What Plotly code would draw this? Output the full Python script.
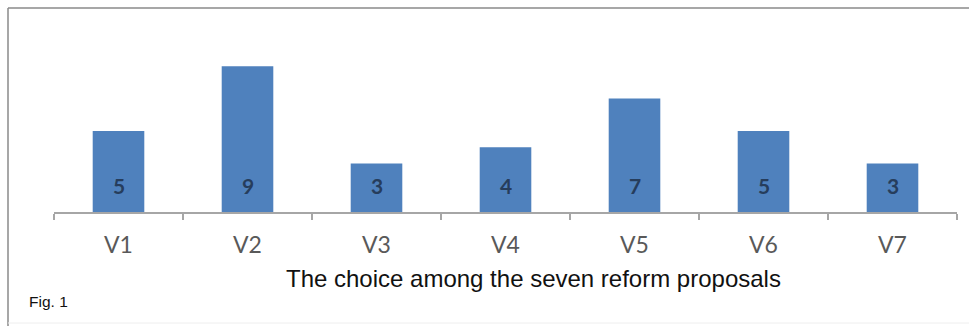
import plotly.graph_objects as go

categories = ["V1", "V2", "V3", "V4", "V5", "V6", "V7"]
votes = [5, 9, 3, 4, 7, 5, 3]
title_text = "The choice among the seven reform proposals"
fig_label = "Fig. 1"

W, H = 969, 326
ML, MR, MT, MB = 54, 12, 50, 114
pw = W - ML - MR
ph = H - MT - MB

def px_x(px):
    return (px - ML) / pw

def px_y(py):
    return (H - MB - py) / ph

fig = go.Figure()
fig.add_trace(go.Bar(
    x=categories, y=votes,
    marker=dict(color="#4f81bd", line=dict(width=0)),
    hoverinfo="x+y",
))

annotations = []
for c, v in zip(categories, votes):
    annotations.append(dict(
        x=c, y=0, xref="x", yref="y", text=str(v), showarrow=False,
        yshift=27, yanchor="middle",
        font=dict(family="Lato", size=21, color="#263d5c", weight="bold"),
    ))
annotations.append(dict(
    x=px_x(533), y=px_y(278), xref="paper", yref="paper", text=title_text,
    showarrow=False, xanchor="center", yanchor="middle",
    font=dict(family="Liberation Sans, Arial", size=24, color="#111111"),
))
annotations.append(dict(
    x=px_x(27), y=px_y(301), xref="paper", yref="paper", text=fig_label,
    showarrow=False, xanchor="left", yanchor="middle",
    font=dict(family="Liberation Sans, Arial", size=15.5, color="#111111"),
))

shapes = [
    dict(type="line", xref="paper", yref="paper",
         x0=px_x(8), x1=px_x(8), y0=px_y(8), y1=px_y(326),
         line=dict(color="#8a8a8a", width=1.5)),
    dict(type="line", xref="paper", yref="paper",
         x0=px_x(8), x1=px_x(969), y0=px_y(8), y1=px_y(8),
         line=dict(color="#8a8a8a", width=1.5)),
    dict(type="line", xref="paper", yref="paper",
         x0=px_x(8), x1=px_x(969), y0=px_y(323), y1=px_y(323),
         line=dict(color="#eeeeee", width=1)),
]

fig.update_layout(
    width=W, height=H,
    margin=dict(l=ML, r=MR, t=MT, b=MB, pad=0),
    paper_bgcolor="white", plot_bgcolor="white",
    bargap=0.6, showlegend=False,
    annotations=annotations, shapes=shapes,
    xaxis=dict(
        type="category", showline=True, linecolor="#a6a6a6", linewidth=1.5,
        ticks="outside", tickson="boundaries", ticklen=6, tickcolor="#a6a6a6",
        tickwidth=1.5, showgrid=False, zeroline=False,
        tickfont=dict(family="Lato", size=23, color="#595959"),
        ticklabelstandoff=12,
    ),
    yaxis=dict(range=[0, 10], visible=False, showgrid=False, zeroline=False),
)

fig.write_html("out.html", config={"displayModeBar": False})
